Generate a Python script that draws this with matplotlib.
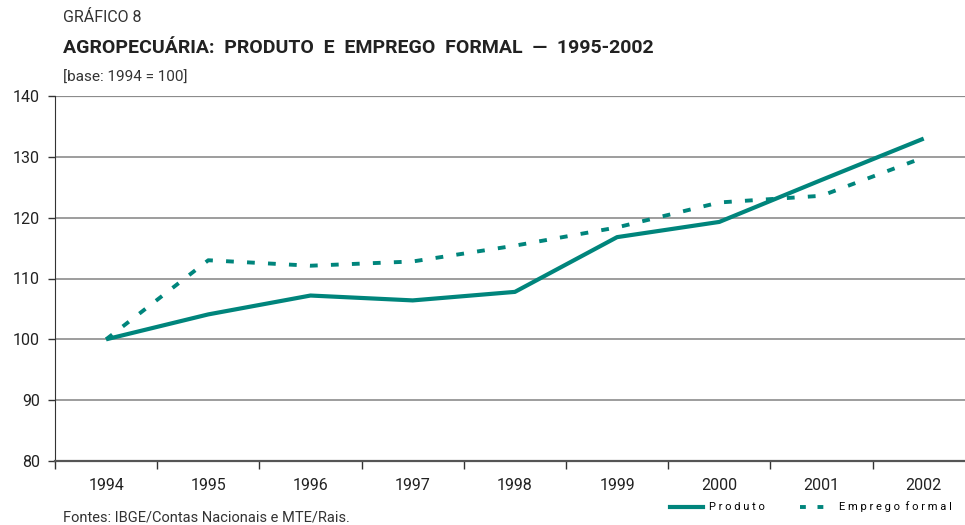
import matplotlib.pyplot as plt
from matplotlib.lines import Line2D

plt.rcParams['font.family'] = ['Roboto', 'DejaVu Sans']

# data
anos = ['1994', '1995', '1996', '1997', '1998', '1999', '2000', '2001', '2002']
produto = [100, 104.1, 107.2, 106.4, 107.8, 116.8, 119.3, 126.2, 133.0]
emprego = [100, 113.0, 112.1, 112.8, 115.4, 118.4, 122.5, 123.6, 129.9]

teal = '#00857c'
x = list(range(len(anos)))

fig = plt.figure(figsize=(9.65, 5.25), dpi=100)
ax = fig.add_axes([55/965, 1 - 461/525, 910/965, (461 - 96)/525])

ax.plot(x, produto, color=teal, lw=3.0, solid_capstyle='butt', label='Produto')
ax.plot(x, emprego, color=teal, lw=2.8, ls=(0, (2.0, 3.4)), dash_capstyle='butt',
        label='Emprego formal')

ax.set_ylim(80, 140)
ax.set_xlim(-0.5, -0.5 + 910/102.2)
ax.set_yticks(range(80, 141, 10))
for v in range(90, 141, 10):
    ax.axhline(v, color='#8c8c8c', lw=1.2 if v < 140 else 1.6, zorder=0)

ax.set_xticks(x)
ax.set_xticklabels(anos)
ax.set_xticks([i + 0.5 for i in x[:-1]] + [-0.5], minor=True)
ax.tick_params(axis='x', which='major', length=0, pad=12, labelsize=11.5,
               labelcolor='#222222')
ax.tick_params(axis='x', which='minor', length=6, width=1, color='#333333',
               direction='out')
ax.tick_params(axis='y', length=5, width=1, color='#333333', labelsize=11.5,
               pad=6, labelcolor='#222222')

for s in ['top', 'right']:
    ax.spines[s].set_visible(False)
ax.spines['left'].set_color('#333333')
ax.spines['bottom'].set_color('#555555')
ax.spines['bottom'].set_linewidth(1.6)

fig.text(63/965, 1 - 18/525, 'GRÁFICO 8', fontsize=11.5, color='#333333',
         va='center')
fig.text(63/965, 1 - 48/525, 'AGROPECUÁRIA:  PRODUTO  E  EMPREGO  FORMAL  —  1995-2002',
         fontsize=14, fontweight='bold', color='#222222', va='center')
fig.text(63/965, 1 - 78/525, '[base: 1994 = 100]', fontsize=11,
         color='#333333', va='center')
fig.text(63/965, 1 - 517/525, 'Fontes: IBGE/Contas Nacionais e MTE/Rais.',
         fontsize=10.5, color='#333333', va='center')

handles = [Line2D([], [], color=teal, lw=3.0),
           Line2D([], [], color=teal, lw=2.8, ls=(0, (1.5, 3.0)))]
fig.legend(handles, ['P r o d u t o', 'E m p r e g o  f o r m a l'],
           loc='center right', bbox_to_anchor=(962/965, 1 - 507/525), ncol=2,
           frameon=False, fontsize=8, handlelength=3.0, handletextpad=0.5,
           columnspacing=3.2)

fig.savefig('out.png', dpi=100)
